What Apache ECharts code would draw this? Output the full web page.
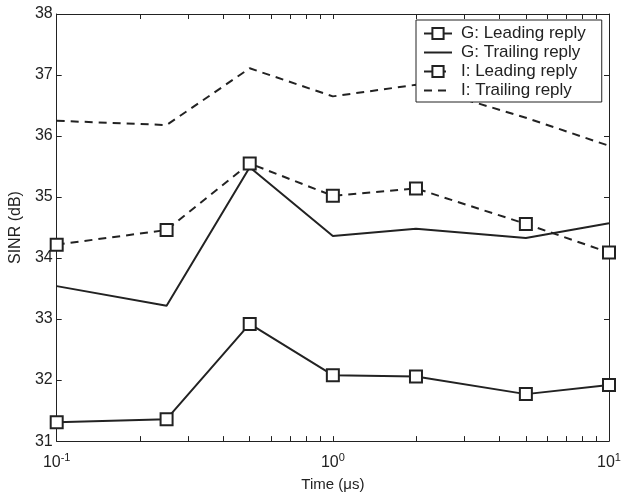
<!DOCTYPE html>
<html>
<head>
<meta charset="utf-8">
<script src="https://cdn.jsdelivr.net/npm/echarts@6/dist/echarts.min.js"></script>
<style>
  html, body { margin: 0; padding: 0; background: #fff; }
  #chart { width: 624px; height: 497px; }
</style>
</head>
<body>
<div id="chart"></div>
<script>
// 时间点 (μs)
const times = [0.1, 0.25, 0.5, 1, 2, 5, 10]

// SINR (dB)
const gLeading = [31.31, 31.36, 32.92, 32.08, 32.06, 31.77, 31.92]
const gTrailing = [33.54, 33.22, 35.49, 34.36, 34.48, 34.33, 34.57]
const iLeading = [34.22, 34.46, 35.55, 35.02, 35.14, 34.56, 34.09]
const iTrailing = [36.25, 36.18, 37.11, 36.65, 36.84, 36.30, 35.84]

const seriesNames = ['G: Leading reply', 'G: Trailing reply', 'I: Leading reply', 'I: Trailing reply']

// 对数轴刻度
const majorTicks = [0.1, 1, 10]
const minorTicks = [0.1, 0.2, 0.3, 0.4, 0.5, 0.6, 0.7, 0.8, 0.9, 1, 2, 3, 4, 5, 6, 7, 8, 9, 10]

const ink = '#222'
const font = 'Liberation Sans, Arial, Helvetica, sans-serif'

function pairs(ys) {
  return times.map((t, i) => [t, ys[i]])
}

function expLabel(v) {
  const e = Math.round(Math.log10(v))
  return '{b|10}{s|' + e + '}'
}

const chart = echarts.init(document.getElementById('chart'))

const xBase = {
  type: 'log',
  min: 0.1,
  max: 10,
  logBase: 10,
  axisLine: { lineStyle: { color: ink, width: 1 } },
  axisTick: { inside: true, length: 5, customValues: minorTicks, lineStyle: { color: ink } },
  splitLine: { show: false },
  minorTick: { show: false },
}

const yBase = {
  type: 'value',
  min: 31,
  max: 38,
  interval: 1,
  axisLine: { show: true, lineStyle: { color: ink, width: 1 } },
  axisTick: { show: true, inside: true, length: 5, lineStyle: { color: ink } },
  splitLine: { show: false },
}

const lineBase = {
  type: 'line',
  symbolSize: 12,
  symbol: 'rect',
  itemStyle: { color: '#fff', borderColor: ink, borderWidth: 2 },
  animation: false,
}

chart.setOption({
  animation: false,
  textStyle: { fontFamily: font },
  grid: { left: 54, right: 15, top: 14, bottom: 48, containLabel: false },
  legend: {
    // 实线/虚线图例不显示符号
    data: [
      { name: seriesNames[0] },
      { name: seriesNames[1], itemStyle: { opacity: 0 } },
      { name: seriesNames[2] },
      { name: seriesNames[3], itemStyle: { opacity: 0 } },
    ],
    orient: 'vertical',
    left: 416,
    top: 20,
    padding: [5, 16, 3, 7],
    itemGap: 2,
    itemWidth: 28,
    itemHeight: 14,
    backgroundColor: '#fff',
    borderColor: ink,
    borderWidth: 1,
    borderRadius: 0,
    selectedMode: false,
    textStyle: { fontSize: 17, lineHeight: 14, color: ink, fontFamily: font, padding: [0, 0, 0, 4] },
  },
  xAxis: [
    {
      ...xBase,
      position: 'bottom',
      name: 'Time (μs)',
      nameLocation: 'middle',
      nameGap: 30,
      nameTextStyle: { fontSize: 15, color: ink, fontFamily: font },
      axisLabel: {
        customValues: majorTicks,
        margin: 12,
        color: ink,
        formatter: expLabel,
        rich: {
          b: { fontSize: 16, color: ink, fontFamily: font, lineHeight: 18 },
          s: { fontSize: 11, color: ink, fontFamily: font, lineHeight: 18, padding: [0, 0, 9, 0] },
        },
      },
    },
    {
      ...xBase,
      position: 'top',
      axisLabel: { show: false },
    },
  ],
  yAxis: [
    {
      ...yBase,
      position: 'left',
      name: 'SINR (dB)',
      nameLocation: 'middle',
      nameGap: 31,
      nameTextStyle: { fontSize: 16, color: ink, fontFamily: font },
      axisLabel: { fontSize: 16, color: ink, margin: 4, fontFamily: font },
    },
    {
      ...yBase,
      position: 'right',
      axisLabel: { show: false },
    },
  ],
  series: [
    {
      ...lineBase,
      name: seriesNames[0],
      data: pairs(gLeading),
      lineStyle: { color: ink, width: 2, type: 'solid' },
    },
    {
      ...lineBase,
      name: seriesNames[1],
      data: pairs(gTrailing),
      symbol: 'none',
      showSymbol: false,
      lineStyle: { color: ink, width: 2, type: 'solid' },
    },
    {
      ...lineBase,
      name: seriesNames[2],
      data: pairs(iLeading),
      lineStyle: { color: ink, width: 2, type: [8, 6] },
    },
    {
      ...lineBase,
      name: seriesNames[3],
      data: pairs(iTrailing),
      symbol: 'none',
      showSymbol: false,
      lineStyle: { color: ink, width: 2, type: [8, 6] },
    },
  ],
})
</script>
</body>
</html>
